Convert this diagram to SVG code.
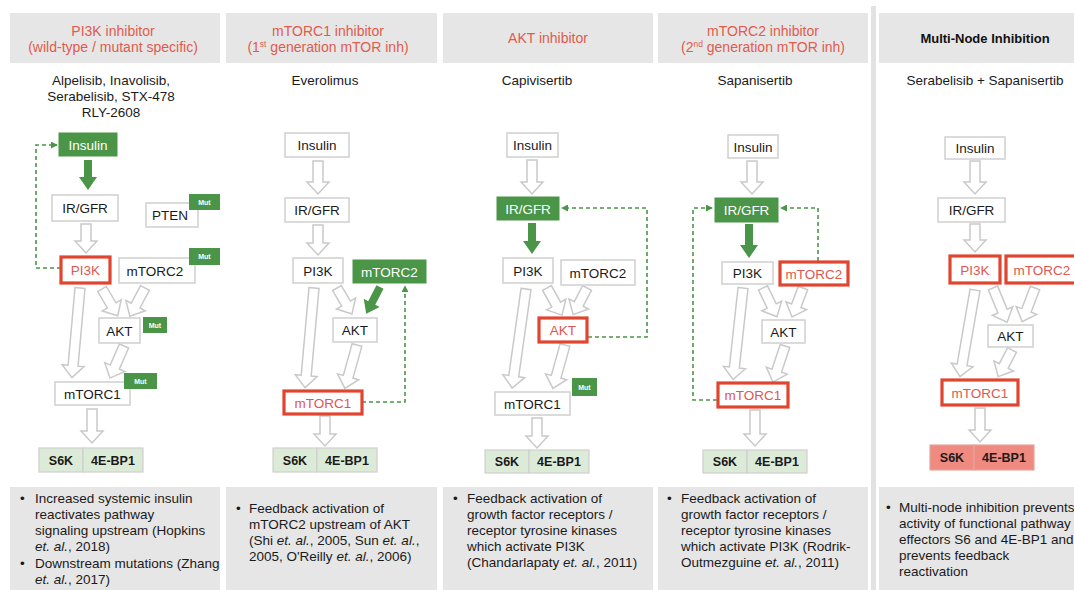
<svg xmlns="http://www.w3.org/2000/svg" width="1074" height="590" viewBox="0 0 1074 590">
<defs>
<style>
text{font-family:"Liberation Sans",Arial,sans-serif}
.hdr{fill:#e6e6e6}
.ttl{font-size:14px;fill:#e05b4e;text-anchor:middle}
.ttlb{font-size:13px;fill:#111;text-anchor:middle;font-weight:bold}
.drug{font-size:13.5px;fill:#1a1a1a;text-anchor:middle}
.node{fill:#fff;stroke:#cfcfcf;stroke-width:1.5}
.gnode{fill:#4a9547;stroke:#4a9547;stroke-width:1}
.rnode{fill:#fff;stroke:#e0452f;stroke-width:3.2}
.lbl{font-size:13.5px;fill:#1a1a1a;text-anchor:middle}
.glbl{font-size:13.5px;fill:#fff;text-anchor:middle}
.rlbl{font-size:13.5px;fill:#e0574f;text-anchor:middle}
.mut{fill:#4a9547}
.mutt{font-size:7px;fill:#fff;font-weight:bold;text-anchor:middle}
.harrow{fill:#fff;stroke:#c9c9c9;stroke-width:1.5;stroke-linejoin:miter}
.garrow{fill:#4a9547}
.fb{fill:none;stroke:#4a9547;stroke-width:1.6;stroke-dasharray:4 3}
.eff{fill:#dcebd7;stroke:#cfcfcf;stroke-width:1.2}
.effr{fill:#ef8a81;stroke:#e3a59f;stroke-width:1.2}
.efft{font-size:12.5px;fill:#1a1a1a;text-anchor:middle;font-weight:bold}
.note{fill:#e6e6e6}
.nt{font-size:13.5px;fill:#1a1a1a}
.it{font-style:italic}
</style>
<marker id="ah" viewBox="0 0 8 8" refX="7" refY="4" markerWidth="7" markerHeight="7" markerUnits="userSpaceOnUse" orient="auto">
<path d="M0,0 L8,4 L0,8 Z" fill="#4a9547"/>
</marker>
</defs>
<rect width="1074" height="590" fill="#fff"/>

<!-- headers -->
<g id="headers">
<rect class="hdr" x="10" y="13" width="210" height="50"/>
<rect class="hdr" x="226" y="13" width="211" height="50"/>
<rect class="hdr" x="443" y="13" width="210" height="50"/>
<rect class="hdr" x="658" y="13" width="210" height="50"/>
<rect class="hdr" x="879" y="13" width="210" height="50"/>
<rect x="871" y="6" width="5" height="584" fill="#e2e2e2"/>
<text class="ttl" x="113" y="36">PI3K inhibitor</text>
<text class="ttl" x="113" y="52">(wild-type / mutant specific)</text>
<text class="ttl" x="328" y="36">mTORC1 inhibitor</text>
<text class="ttl" x="328" y="52">(1<tspan dy="-5" font-size="8.5">st</tspan><tspan dy="5"> generation mTOR inh)</tspan></text>
<text class="ttl" x="548" y="43">AKT inhibitor</text>
<text class="ttl" x="763" y="36">mTORC2 inhibitor</text>
<text class="ttl" x="763" y="52">(2<tspan dy="-5" font-size="8.5">nd</tspan><tspan dy="5"> generation mTOR inh)</tspan></text>
<text class="ttlb" x="985" y="43">Multi-Node Inhibition</text>
<text class="drug" x="111" y="85">Alpelisib, Inavolisib,</text>
<text class="drug" x="111" y="101">Serabelisib, STX-478</text>
<text class="drug" x="111" y="117">RLY-2608</text>
<text class="drug" x="325" y="85">Everolimus</text>
<text class="drug" x="537" y="85">Capivisertib</text>
<text class="drug" x="755" y="85">Sapanisertib</text>
<text class="drug" x="985" y="85">Serabelisib + Sapanisertib</text>
</g>

<!-- connectors -->
<g id="connectors">
<!-- col1 -->
<polygon class="garrow" transform="translate(88,160)" points="-4,0 4,0 4,17 9,17 0,30 -9,17 -4,17"/>
<polygon class="harrow" transform="translate(86,224)" points="-5,0 5,0 5,17 11,17 0,29 -11,17 -5,17"/>
<polygon class="harrow" transform="translate(80,288) rotate(5.1)" points="-5,0 5,0 5,78 11,78 0,90 -11,78 -5,78"/>
<polygon class="harrow" transform="translate(102,289) rotate(-30.6)" points="-5,0 5,0 5,19 11,19 0,31 -11,19 -5,19"/>
<polygon class="harrow" transform="translate(145,288) rotate(28.2)" points="-5,0 5,0 5,20 11,20 0,32 -11,20 -5,20"/>
<polygon class="harrow" transform="translate(124,346) rotate(23.6)" points="-5,0 5,0 5,23 11,23 0,35 -11,23 -5,23"/>
<polygon class="harrow" transform="translate(92,409)" points="-5,0 5,0 5,22 11,22 0,34 -11,22 -5,22"/>
<path class="fb" d="M61,268 H36 V145 H57" marker-end="url(#ah)"/>
<!-- col2 -->
<polygon class="harrow" transform="translate(318,161)" points="-5,0 5,0 5,21 11,21 0,33 -11,21 -5,21"/>
<polygon class="harrow" transform="translate(318,225)" points="-5,0 5,0 5,18 11,18 0,30 -11,18 -5,18"/>
<polygon class="harrow" transform="translate(314,288) rotate(5.1)" points="-5,0 5,0 5,88 11,88 0,100 -11,88 -5,88"/>
<polygon class="harrow" transform="translate(337,288) rotate(-30)" points="-5,0 5,0 5,18 11,18 0,30 -11,18 -5,18"/>
<polygon class="garrow" transform="translate(380,287) rotate(27.4)" points="-4,0 4,0 4,18 9,18 0,30 -9,18 -4,18"/>
<polygon class="harrow" transform="translate(357,345) rotate(15.6)" points="-5,0 5,0 5,33 11,33 0,45 -11,33 -5,33"/>
<polygon class="harrow" transform="translate(325,416)" points="-5,0 5,0 5,18 11,18 0,30 -11,18 -5,18"/>
<path class="fb" d="M362,402 H405 V286" marker-end="url(#ah)"/>
<!-- col3 -->
<polygon class="harrow" transform="translate(532,160)" points="-5,0 5,0 5,22 11,22 0,34 -11,22 -5,22"/>
<polygon class="garrow" transform="translate(532,223)" points="-4,0 4,0 4,18 9,18 0,31 -9,18 -4,18"/>
<polygon class="harrow" transform="translate(526,289) rotate(8)" points="-5,0 5,0 5,88 11,88 0,100 -11,88 -5,88"/>
<polygon class="harrow" transform="translate(547,288) rotate(-29)" points="-5,0 5,0 5,19 11,19 0,31 -11,19 -5,19"/>
<polygon class="harrow" transform="translate(587,288) rotate(27.4)" points="-5,0 5,0 5,18 11,18 0,30 -11,18 -5,18"/>
<polygon class="harrow" transform="translate(565,345) rotate(15.6)" points="-5,0 5,0 5,33 11,33 0,45 -11,33 -5,33"/>
<polygon class="harrow" transform="translate(537,418)" points="-5,0 5,0 5,18 11,18 0,30 -11,18 -5,18"/>
<path class="fb" d="M588,337 H647 V208 H562" marker-end="url(#ah)"/>
<!-- col4 -->
<polygon class="harrow" transform="translate(752,161)" points="-5,0 5,0 5,21 11,21 0,33 -11,21 -5,21"/>
<polygon class="garrow" transform="translate(749,224)" points="-4,0 4,0 4,21 9,21 0,34 -9,21 -4,21"/>
<polygon class="harrow" transform="translate(743,288) rotate(6.2)" points="-5,0 5,0 5,80 11,80 0,92 -11,80 -5,80"/>
<polygon class="harrow" transform="translate(763,288) rotate(-25.8)" points="-5,0 5,0 5,20 11,20 0,32 -11,20 -5,20"/>
<polygon class="harrow" transform="translate(803,288) rotate(20.8)" points="-5,0 5,0 5,19 11,19 0,31 -11,19 -5,19"/>
<polygon class="harrow" transform="translate(785,346) rotate(18.4)" points="-5,0 5,0 5,26 11,26 0,38 -11,26 -5,26"/>
<polygon class="harrow" transform="translate(755,410)" points="-5,0 5,0 5,24 11,24 0,36 -11,24 -5,24"/>
<path class="fb" d="M818,261 V208 H781" marker-end="url(#ah)"/>
<path class="fb" d="M717,400 H693 V208 H712" marker-end="url(#ah)"/>
<!-- col5 -->
<polygon class="harrow" transform="translate(975,161)" points="-5,0 5,0 5,21 11,21 0,33 -11,21 -5,21"/>
<polygon class="harrow" transform="translate(975,224)" points="-5,0 5,0 5,16 11,16 0,28 -11,16 -5,16"/>
<polygon class="harrow" transform="translate(975,290) rotate(9.8)" points="-5,0 5,0 5,76 11,76 0,88 -11,76 -5,76"/>
<polygon class="harrow" transform="translate(993,288) rotate(-22.4)" points="-5,0 5,0 5,25 11,25 0,37 -11,25 -5,25"/>
<polygon class="harrow" transform="translate(1035,288) rotate(20.9)" points="-5,0 5,0 5,24 11,24 0,36 -11,24 -5,24"/>
<polygon class="harrow" transform="translate(1012,350) rotate(27.4)" points="-5,0 5,0 5,18 11,18 0,30 -11,18 -5,18"/>
<polygon class="harrow" transform="translate(980,408)" points="-5,0 5,0 5,22 11,22 0,34 -11,22 -5,22"/>
</g>

<!-- column 1 nodes -->
<g id="c1-insulin"><rect class="gnode" x="59" y="133" width="58" height="23"/><text class="glbl" x="88" y="149.5">Insulin</text></g>
<g id="c1-irgfr"><rect class="node" x="52" y="195" width="66" height="26"/><text class="lbl" x="85" y="213">IR/GFR</text></g>
<g id="c1-pi3k"><rect class="rnode" x="61" y="257" width="49" height="26"/><text class="rlbl" x="85.5" y="275">PI3K</text></g>
<g id="c1-pten"><rect class="node" x="146" y="203" width="52" height="24"/><text class="lbl" x="170" y="220">PTEN</text><rect class="mut" x="189" y="194" width="31" height="16"/><text class="mutt" x="204.5" y="204.5">Mut</text></g>
<g id="c1-mtorc2"><rect class="node" x="119" y="258" width="76" height="25"/><text class="lbl" x="155" y="275.5">mTORC2</text><rect class="mut" x="189" y="248" width="31" height="17"/><text class="mutt" x="204.5" y="259">Mut</text></g>
<g id="c1-akt"><rect class="node" x="99" y="318" width="41" height="25"/><text class="lbl" x="119.5" y="335.5">AKT</text><rect class="mut" x="143" y="317" width="24" height="16"/><text class="mutt" x="155" y="327.5">Mut</text></g>
<g id="c1-mtorc1"><rect class="node" x="55" y="382" width="75" height="23"/><text class="lbl" x="92.5" y="398.5">mTORC1</text><rect class="mut" x="124" y="373" width="33" height="16"/><text class="mutt" x="140.5" y="383.5">Mut</text></g>
<g id="c1-eff"><rect class="eff" x="39" y="448" width="44" height="24"/><rect class="eff" x="83" y="448" width="60" height="24"/><text class="efft" x="61" y="464.5">S6K</text><text class="efft" x="113" y="464.5">4E-BP1</text></g>

<!-- column 2 nodes -->
<g id="c2-insulin"><rect class="node" x="285" y="133" width="64" height="24"/><text class="lbl" x="317" y="150">Insulin</text></g>
<g id="c2-irgfr"><rect class="node" x="285" y="198" width="64" height="24"/><text class="lbl" x="317" y="215">IR/GFR</text></g>
<g id="c2-pi3k"><rect class="node" x="293" y="258" width="50" height="25"/><text class="lbl" x="318" y="275.5">PI3K</text></g>
<g id="c2-mtorc2"><rect class="gnode" x="353" y="260" width="73" height="23"/><text class="glbl" x="389.5" y="276.5">mTORC2</text></g>
<g id="c2-akt"><rect class="node" x="333" y="318" width="44" height="24"/><text class="lbl" x="355" y="335">AKT</text></g>
<g id="c2-mtorc1"><rect class="rnode" x="284" y="391" width="78" height="23"/><text class="rlbl" x="323" y="407.5">mTORC1</text></g>
<g id="c2-eff"><rect class="eff" x="273" y="448" width="44" height="24"/><rect class="eff" x="317" y="448" width="60" height="24"/><text class="efft" x="295" y="464.5">S6K</text><text class="efft" x="347" y="464.5">4E-BP1</text></g>

<!-- column 3 nodes -->
<g id="c3-insulin"><rect class="node" x="507" y="133" width="51" height="24"/><text class="lbl" x="532.5" y="150">Insulin</text></g>
<g id="c3-irgfr"><rect class="gnode" x="497" y="197" width="62" height="23"/><text class="glbl" x="528" y="213.5">IR/GFR</text></g>
<g id="c3-pi3k"><rect class="node" x="503" y="258" width="50" height="25"/><text class="lbl" x="528" y="275.5">PI3K</text></g>
<g id="c3-mtorc2"><rect class="node" x="561" y="260" width="74" height="25"/><text class="lbl" x="598" y="277.5">mTORC2</text></g>
<g id="c3-akt"><rect class="rnode" x="539" y="318" width="48" height="24"/><text class="rlbl" x="563" y="335">AKT</text></g>
<g id="c3-mtorc1"><rect class="node" x="495" y="392" width="75" height="23"/><text class="lbl" x="532.5" y="408.5">mTORC1</text><rect class="mut" x="572" y="378" width="25" height="18"/><text class="mutt" x="584.5" y="389.5">Mut</text></g>
<g id="c3-eff"><rect class="eff" x="485" y="450" width="44" height="23"/><rect class="eff" x="529" y="450" width="60" height="23"/><text class="efft" x="507" y="466">S6K</text><text class="efft" x="559" y="466">4E-BP1</text></g>

<!-- column 4 nodes -->
<g id="c4-insulin"><rect class="node" x="728" y="135" width="50" height="23"/><text class="lbl" x="753" y="151.5">Insulin</text></g>
<g id="c4-irgfr"><rect class="gnode" x="715" y="198" width="63" height="24"/><text class="glbl" x="746.5" y="215">IR/GFR</text></g>
<g id="c4-pi3k"><rect class="node" x="722" y="262" width="51" height="22"/><text class="lbl" x="747.5" y="278">PI3K</text></g>
<g id="c4-mtorc2"><rect class="rnode" x="780" y="262" width="68" height="23"/><text class="rlbl" x="814" y="278.5">mTORC2</text></g>
<g id="c4-akt"><rect class="node" x="762" y="320" width="43" height="23"/><text class="lbl" x="783.5" y="336.5">AKT</text></g>
<g id="c4-mtorc1"><rect class="rnode" x="718" y="383" width="70" height="24"/><text class="rlbl" x="753" y="400">mTORC1</text></g>
<g id="c4-eff"><rect class="eff" x="703" y="450" width="44" height="23"/><rect class="eff" x="747" y="450" width="60" height="23"/><text class="efft" x="725" y="466">S6K</text><text class="efft" x="777" y="466">4E-BP1</text></g>

<!-- column 5 nodes -->
<g id="c5-insulin"><rect class="node" x="945" y="137" width="60" height="22"/><text class="lbl" x="975" y="153">Insulin</text></g>
<g id="c5-irgfr"><rect class="node" x="938" y="198" width="67" height="24"/><text class="lbl" x="971.5" y="215">IR/GFR</text></g>
<g id="c5-pi3k"><rect class="rnode" x="950" y="256" width="50" height="27"/><text class="rlbl" x="975" y="274.5">PI3K</text></g>
<g id="c5-mtorc2"><rect class="rnode" x="1006" y="256" width="72" height="27"/><text class="rlbl" x="1042" y="274.5">mTORC2</text></g>
<g id="c5-akt"><rect class="node" x="988" y="325" width="45" height="22"/><text class="lbl" x="1010.5" y="341">AKT</text></g>
<g id="c5-mtorc1"><rect class="rnode" x="942" y="380" width="76" height="25"/><text class="rlbl" x="980" y="397.5">mTORC1</text></g>
<g id="c5-eff"><rect class="effr" x="930" y="445" width="44" height="25"/><rect class="effr" x="974" y="445" width="60" height="25"/><text class="efft" x="952" y="462">S6K</text><text class="efft" x="1004" y="462">4E-BP1</text></g>

<!-- notes -->
<g id="notes">
<rect class="note" x="10" y="487" width="210" height="103"/>
<rect class="note" x="226" y="487" width="211" height="103"/>
<rect class="note" x="443" y="487" width="210" height="103"/>
<rect class="note" x="658" y="487" width="210" height="103"/>
<rect class="note" x="879" y="487" width="210" height="103"/>
<text class="nt" x="20" y="503">•</text>
<text class="nt" x="35" y="503">Increased systemic insulin</text>
<text class="nt" x="35" y="519">reactivates pathway</text>
<text class="nt" x="35" y="535">signaling upstream (Hopkins</text>
<text class="nt" x="35" y="551"><tspan class="it">et. al.</tspan>, 2018)</text>
<text class="nt" x="20" y="568">•</text>
<text class="nt" x="35" y="568">Downstream mutations (Zhang</text>
<text class="nt" x="35" y="584"><tspan class="it">et. al.</tspan>, 2017)</text>

<text class="nt" x="236" y="513">•</text>
<text class="nt" x="249" y="513">Feedback activation of</text>
<text class="nt" x="249" y="529">mTORC2 upstream of AKT</text>
<text class="nt" x="249" y="545">(Shi <tspan class="it">et. al.</tspan>, 2005, Sun <tspan class="it">et. al.</tspan>,</text>
<text class="nt" x="249" y="561">2005, O'Reilly <tspan class="it">et. al.</tspan>, 2006)</text>

<text class="nt" x="453" y="503">•</text>
<text class="nt" x="467" y="503">Feedback activation of</text>
<text class="nt" x="467" y="519">growth factor receptors /</text>
<text class="nt" x="467" y="535">receptor tyrosine kinases</text>
<text class="nt" x="467" y="551">which activate PI3K</text>
<text class="nt" x="467" y="567">(Chandarlapaty <tspan class="it">et. al.</tspan>, 2011)</text>

<text class="nt" x="667" y="503">•</text>
<text class="nt" x="681" y="503">Feedback activation of</text>
<text class="nt" x="681" y="519">growth factor receptors /</text>
<text class="nt" x="681" y="535">receptor tyrosine kinases</text>
<text class="nt" x="681" y="551">which activate PI3K (Rodrik-</text>
<text class="nt" x="681" y="567">Outmezguine <tspan class="it">et. al.</tspan>, 2011)</text>

<text class="nt" x="886" y="512">•</text>
<text class="nt" x="899" y="512">Multi-node inhibition prevents</text>
<text class="nt" x="899" y="528">activity of functional pathway</text>
<text class="nt" x="899" y="544">effectors S6 and 4E-BP1 and</text>
<text class="nt" x="899" y="560">prevents feedback</text>
<text class="nt" x="899" y="576">reactivation</text>
</g>
</svg>
